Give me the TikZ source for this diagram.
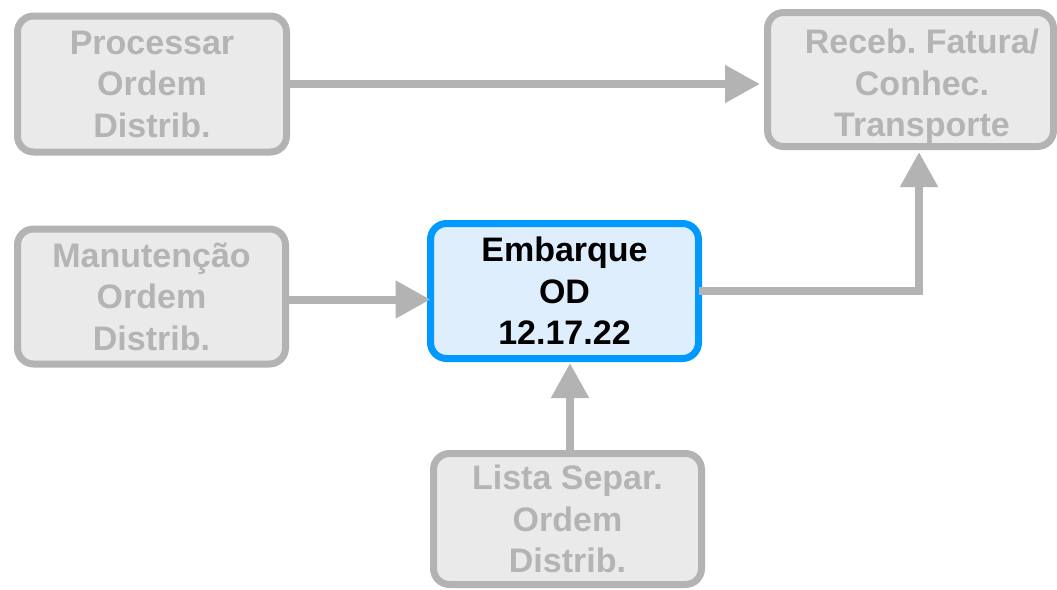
\documentclass[tikz,border=0pt]{standalone}
\usepackage{fontspec}
\setmainfont{Liberation Sans}
\usetikzlibrary{arrows.meta}
\definecolor{gborder}{RGB}{179,179,179}
\definecolor{gfill}{RGB}{234,234,234}
\definecolor{gtext}{RGB}{180,180,180}
\definecolor{bborder}{RGB}{0,153,255}
\definecolor{bfill}{RGB}{222,238,252}
\tikzset{
  graybox/.style={draw=gborder, fill=gfill, line width=7pt, rounded corners=16pt,
    outer sep=0pt, inner sep=0pt, minimum width=268pt, minimum height=135pt,
    align=center, text=gtext, font=\fontsize{34}{41.5}\selectfont\bfseries\frenchspacing},
  bluebox/.style={graybox, draw=bborder, fill=bfill, text=black},
  txt/.style={align=center, text=gtext, inner sep=0pt, font=\fontsize{34}{41.5}\selectfont\bfseries\frenchspacing},
  arr/.style={draw=gborder, line width=8pt,
    -{Triangle[length=35pt,width=36pt]}}
}
\begin{document}
\begin{tikzpicture}[x=1pt,y=-1pt]
\useasboundingbox (0,0) rectangle (1057,589);
\node[graybox, minimum width=269pt, minimum height=136pt] (proc) at (152,84) {Processar\\Ordem\\Distrib.};
\node[graybox, minimum width=286pt, minimum height=134pt] (receb) at (910.5,79.5) {};
\node[txt] (recebtxt) at (922,86.5) {Receb. Fatura/\\Conhec.\\Transporte};
\node[graybox] (man) at (151.5,296.5) {Manutenção\\Ordem\\Distrib.};
\node[bluebox] (emb) at (564.5,291) {Embarque\\OD\\12.17.22};
\node[graybox, minimum height=131pt] (lista) at (567.5,519) {Lista Separ.\\Ordem\\Distrib.};
\draw[arr, shorten >=7.5pt] (proc.east) -- (proc.east -| receb.west);
\draw[arr] ([yshift=-3pt]man.east) -- ([yshift=-3pt]man.east -| emb.west);
\draw[arr, shorten >=4.5pt] ([xshift=2.5pt]lista.north) -- ([xshift=2.5pt]lista.north |- emb.south);
\draw[arr, shorten >=5.5pt] (emb.east) -| ([xshift=8.5pt]receb.south);
\end{tikzpicture}
\end{document}
